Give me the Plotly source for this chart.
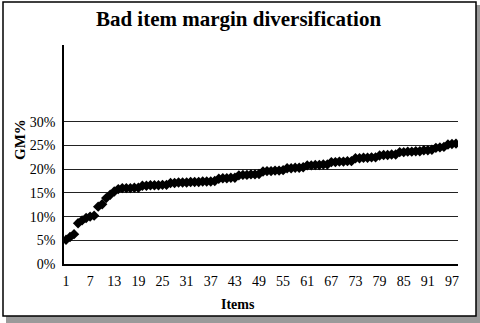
import plotly.graph_objects as go

# Gross-margin % for each bad item, sorted ascending
items = list(range(1, 99))
gm_pct = [
    5.1, 5.7, 6.3,
    8.6, 9.2, 9.7, 10.0, 10.2,
    12.1, 12.6,
    13.9, 14.6, 15.3, 15.8,
    16.0, 16.0, 16.0, 16.1, 16.1,
    16.5, 16.5, 16.6, 16.6, 16.6, 16.7, 16.7,
    17.1, 17.1, 17.2, 17.2, 17.2, 17.3, 17.3, 17.3, 17.4, 17.4, 17.4, 17.5,
    18.0, 18.1, 18.1, 18.2, 18.2,
    18.7, 18.8, 18.8, 18.9, 18.9, 19.0,
    19.5, 19.6, 19.6, 19.7, 19.7, 19.8,
    20.2, 20.2, 20.3, 20.3, 20.4,
    20.8, 20.8, 20.9, 20.9, 21.0, 21.0,
    21.5, 21.5, 21.6, 21.6, 21.7, 21.7,
    22.3, 22.3, 22.4, 22.4, 22.5, 22.5,
    22.9, 23.0, 23.0, 23.1, 23.1,
    23.6, 23.6, 23.7, 23.7, 23.8, 23.8,
    24.0, 24.0, 24.1,
    24.5, 24.6, 24.7,
    25.2, 25.3, 25.4,
]
x_ticks = list(range(1, 98, 6))
y_ticks = [0, 5, 10, 15, 20, 25, 30]
y_labels = [f"{v}%" for v in y_ticks]

W, H = 480, 323
L, R, T, B = 64, 22, 45, 59
PW, PH = W - L - R, H - T - B


def px_x(px):
    return (px - L) / PW


def px_y(py):
    return (H - B - py) / PH


serif = "Liberation Serif, Times New Roman, serif"

fig = go.Figure(
    go.Scatter(
        x=items,
        y=gm_pct,
        mode="markers",
        marker=dict(symbol="diamond", size=8, color="black", line=dict(width=0)),
        hoverinfo="skip",
    )
)

fig.update_layout(
    width=W,
    height=H,
    margin=dict(l=L, r=R, t=T, b=B),
    paper_bgcolor="white",
    plot_bgcolor="rgba(0,0,0,0)",
    showlegend=False,
    font=dict(family=serif, color="black", size=14),
    xaxis=dict(
        range=[0.5, 98.5],
        tickvals=x_ticks,
        showgrid=False,
        zeroline=False,
        showline=True,
        linecolor="black",
        linewidth=1.5,
        ticks="",
        ticklabelstandoff=3,
        tickfont=dict(family=serif, size=14),
    ),
    yaxis=dict(
        range=[0, 46.2],
        tickvals=y_ticks,
        ticktext=y_labels,
        showgrid=True,
        gridcolor="#222",
        gridwidth=1,
        zeroline=False,
        showline=True,
        linecolor="black",
        linewidth=1.5,
        ticks="",
        ticklabelstandoff=4,
        tickfont=dict(family=serif, size=14),
    ),
    title=dict(
        text="<b>Bad item margin diversification</b>",
        x=238.5 / W,
        xref="container",
        xanchor="center",
        y=1 - 19 / H,
        yref="container",
        yanchor="middle",
        font=dict(family=serif, size=21, color="black"),
    ),
    annotations=[
        dict(
            text="<b>GM%</b>", x=px_x(20), y=px_y(140), xref="paper", yref="paper",
            textangle=-90, showarrow=False, xanchor="center", yanchor="middle",
            font=dict(family=serif, size=15),
        ),
        dict(
            text="<b>Items</b>", x=px_x(238), y=px_y(304), xref="paper", yref="paper",
            showarrow=False, xanchor="center", yanchor="middle",
            font=dict(family=serif, size=14),
        ),
    ],
    shapes=[
        # drop shadow behind the frame
        dict(
            type="rect", xref="paper", yref="paper", layer="below",
            x0=px_x(6), x1=px_x(480), y0=px_y(323), y1=px_y(5),
            fillcolor="#9a9a9a", line=dict(width=0),
        ),
        # chart frame
        dict(
            type="rect", xref="paper", yref="paper", layer="below",
            x0=px_x(3), x1=px_x(476), y0=px_y(316), y1=px_y(2),
            fillcolor="white", line=dict(color="black", width=1.5),
        ),
    ],
)

fig.write_html("out.html")
